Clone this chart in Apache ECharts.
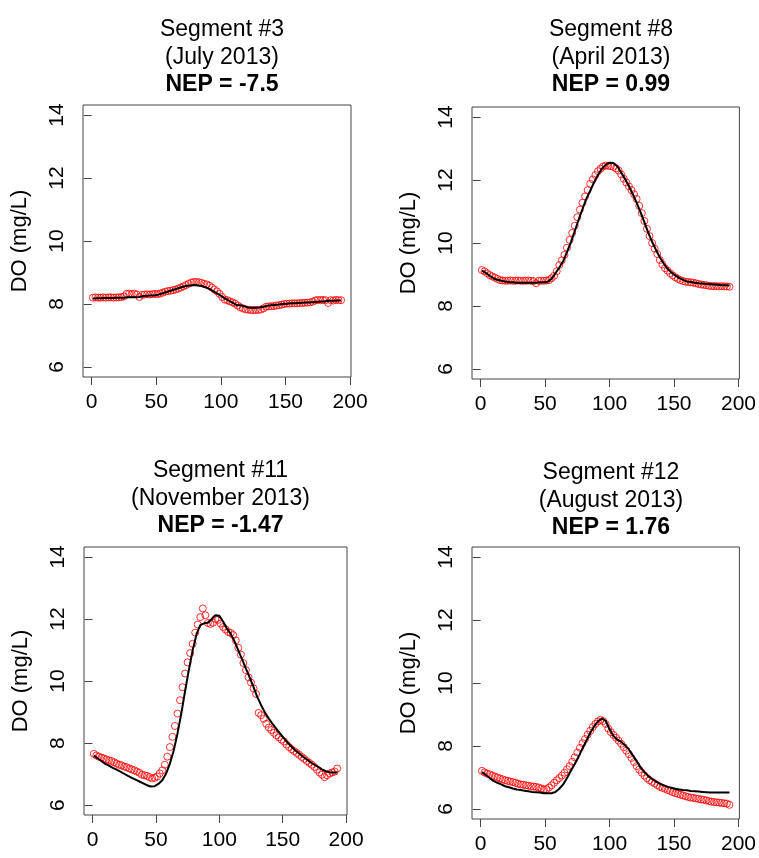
<!DOCTYPE html>
<html>
<head>
<meta charset="utf-8">
<script src="https://cdn.jsdelivr.net/npm/echarts@6/dist/echarts.min.js"></script>
<style>
  html, body { margin: 0; padding: 0; background: #fff; }
  #chart { width: 759px; height: 858px; }
</style>
</head>
<body>
<div id="chart"></div>
<script>
// Time steps of the observed series (every second step)
const hoursObs = [
  1, 3, 5, 7, 9, 11, 13, 15, 17, 19,
  21, 23, 25, 27, 29, 31, 33, 35, 37, 39,
  41, 43, 45, 47, 49, 51, 53, 55, 57, 59,
  61, 63, 65, 67, 69, 71, 73, 75, 77, 79,
  81, 83, 85, 87, 89, 91, 93, 95, 97, 99,
  101, 103, 105, 107, 109, 111, 113, 115, 117, 119,
  121, 123, 125, 127, 129, 131, 133, 135, 137, 139,
  141, 143, 145, 147, 149, 151, 153, 155, 157, 159,
  161, 163, 165, 167, 169, 171, 173, 175, 177, 179,
  181, 183, 185, 187, 189, 191, 193
];
// Time steps of the modelled series
const hoursModel = [
  1, 4, 7, 10, 13, 16, 19, 22, 25, 28,
  31, 34, 37, 40, 43, 46, 49, 52, 55, 58,
  61, 64, 67, 70, 73, 76, 79, 82, 85, 88,
  91, 94, 97, 100, 103, 106, 109, 112, 115, 118,
  121, 124, 127, 130, 133, 136, 139, 142, 145, 148,
  151, 154, 157, 160, 163, 166, 169, 172, 175, 178,
  181, 184, 187, 190, 193
];

const segmentNames = ['Segment #3', 'Segment #8', 'Segment #11', 'Segment #12'];
const surveyMonths = ['(July 2013)', '(April 2013)', '(November 2013)', '(August 2013)'];
const nepValues = ['-7.5', '0.99', '-1.47', '1.76'];

const xTicks = [0, 50, 100, 150, 200];
const yTicks = [6, 8, 10, 12, 14];

// Segment #3: observed and modelled dissolved oxygen (mg/L)
const obsSeg3 = [
  8.20, 8.21, 8.20, 8.20, 8.21, 8.20, 8.21, 8.21, 8.20, 8.21,
  8.21, 8.22, 8.24, 8.32, 8.33, 8.31, 8.33, 8.30, 8.22, 8.29,
  8.30, 8.31, 8.30, 8.31, 8.32, 8.31, 8.33, 8.36, 8.39, 8.41,
  8.42, 8.44, 8.46, 8.49, 8.52, 8.56, 8.60, 8.64, 8.68, 8.70,
  8.70, 8.69, 8.67, 8.64, 8.62, 8.58, 8.52, 8.46, 8.40, 8.32,
  8.22, 8.14, 8.12, 8.08, 8.05, 8.01, 7.95, 7.90, 7.86, 7.83,
  7.82, 7.81, 7.80, 7.81, 7.81, 7.82, 7.86, 7.91, 7.92, 7.93,
  7.93, 7.95, 7.96, 7.98, 8.00, 8.01, 8.01, 8.02, 8.02, 8.02,
  8.03, 8.03, 8.04, 8.04, 8.05, 8.07, 8.11, 8.13, 8.12, 8.13,
  8.12, 8.03, 8.12, 8.11, 8.13, 8.12, 8.12
];
const modSeg3 = [
  8.17, 8.18, 8.18, 8.19, 8.19, 8.19, 8.20, 8.20, 8.20, 8.21,
  8.21, 8.21, 8.22, 8.25, 8.26, 8.27, 8.28, 8.30, 8.34, 8.38,
  8.42, 8.46, 8.50, 8.54, 8.57, 8.59, 8.60, 8.59, 8.57, 8.53,
  8.48, 8.41, 8.34, 8.26, 8.18, 8.11, 8.04, 7.97, 7.96, 7.93,
  7.89, 7.88, 7.88, 7.89, 7.91, 7.94, 7.96, 7.97, 7.98, 8.00,
  8.01, 8.02, 8.02, 8.03, 8.04, 8.05, 8.05, 8.06, 8.07, 8.08,
  8.09, 8.10, 8.10, 8.11, 8.11
];

// Segment #8
const obsSeg8 = [
  9.14, 9.10, 9.04, 8.98, 8.94, 8.90, 8.86, 8.82, 8.81, 8.80,
  8.80, 8.81, 8.80, 8.80, 8.81, 8.80, 8.80, 8.80, 8.81, 8.80,
  8.79, 8.72, 8.80, 8.80, 8.80, 8.81, 8.82, 8.88, 8.96, 9.10,
  9.30, 9.45, 9.62, 9.85, 10.10, 10.32, 10.55, 10.82, 11.06, 11.28,
  11.48, 11.68, 11.88, 12.02, 12.16, 12.28, 12.36, 12.43, 12.46, 12.45,
  12.44, 12.42, 12.37, 12.30, 12.18, 12.04, 11.92, 11.80, 11.68, 11.55,
  11.40, 11.18, 10.95, 10.70, 10.45, 10.22, 10.00, 9.82, 9.65, 9.46,
  9.32, 9.20, 9.12, 9.04, 8.97, 8.91, 8.86, 8.82, 8.79, 8.77,
  8.76, 8.75, 8.74, 8.72, 8.70, 8.68, 8.67, 8.66, 8.64, 8.63,
  8.63, 8.63, 8.62, 8.63, 8.62, 8.62, 8.61
];
const modSeg8 = [
  9.12, 9.05, 8.96, 8.88, 8.83, 8.80, 8.78, 8.76, 8.75, 8.74,
  8.74, 8.74, 8.74, 8.74, 8.74, 8.75, 8.75, 8.77, 8.86, 9.04,
  9.22, 9.42, 9.72, 10.02, 10.38, 10.74, 11.08, 11.40, 11.66, 11.93,
  12.16, 12.36, 12.48, 12.55, 12.54, 12.44, 12.24, 12.03, 11.81, 11.55,
  11.28, 10.98, 10.66, 10.33, 10.04, 9.78, 9.55, 9.35, 9.18, 9.06,
  8.97, 8.89, 8.83, 8.78, 8.76, 8.74, 8.72, 8.71, 8.70, 8.69,
  8.68, 8.67, 8.66, 8.66, 8.65
];

// Segment #11
const obsSeg11 = [
  7.65, 7.60, 7.56, 7.53, 7.50, 7.47, 7.44, 7.42, 7.38, 7.34,
  7.30, 7.28, 7.24, 7.22, 7.18, 7.15, 7.12, 7.08, 7.04, 6.98,
  6.96, 6.94, 6.90, 6.86, 6.88, 6.92, 7.02, 7.12, 7.30, 7.56,
  7.87, 8.20, 8.55, 8.95, 9.38, 9.80, 10.24, 10.60, 10.90, 11.20,
  11.56, 11.82, 12.06, 12.34, 12.12, 11.87, 11.84, 11.88, 12.00, 11.97,
  11.85, 11.74, 11.66, 11.58, 11.55, 11.48, 11.31, 11.07, 10.85, 10.58,
  10.35, 10.12, 9.95, 9.76, 9.58, 8.97, 8.90, 8.78, 8.62, 8.50,
  8.42, 8.33, 8.25, 8.18, 8.11, 8.05, 7.95, 7.87, 7.80, 7.74,
  7.68, 7.62, 7.55, 7.49, 7.42, 7.36, 7.30, 7.23, 7.14, 7.05,
  6.98, 6.90, 6.96, 7.02, 7.05, 7.08, 7.18
];
const modSeg11 = [
  7.60, 7.51, 7.42, 7.33, 7.27, 7.20, 7.14, 7.08, 7.01, 6.94,
  6.88, 6.82, 6.76, 6.70, 6.64, 6.60, 6.61, 6.68, 6.80, 7.01,
  7.33, 7.75, 8.30, 8.95, 9.67, 10.36, 10.99, 11.50, 11.80, 11.86,
  11.88, 12.00, 12.12, 12.10, 11.92, 11.69, 11.52, 11.28, 10.99, 10.70,
  10.40, 10.11, 9.80, 9.48, 9.22, 8.98, 8.79, 8.62, 8.46, 8.30,
  8.15, 8.01, 7.88, 7.76, 7.66, 7.56, 7.47, 7.38, 7.30, 7.23,
  7.15, 7.09, 7.06, 7.05, 7.05
];

// Segment #12
const obsSeg12 = [
  7.21, 7.16, 7.12, 7.10, 7.06, 7.03, 7.00, 6.97, 6.94, 6.91,
  6.89, 6.87, 6.85, 6.83, 6.80, 6.78, 6.77, 6.75, 6.74, 6.72,
  6.71, 6.70, 6.68, 6.65, 6.62, 6.63, 6.68, 6.75, 6.83, 6.91,
  6.98, 7.06, 7.15, 7.26, 7.36, 7.50, 7.64, 7.79, 7.94, 8.09,
  8.22, 8.36, 8.48, 8.60, 8.70, 8.78, 8.83, 8.79, 8.70, 8.55,
  8.44, 8.35, 8.26, 8.17, 8.07, 7.96, 7.85, 7.74, 7.62, 7.49,
  7.36, 7.25, 7.15, 7.06, 6.98, 6.91, 6.86, 6.81, 6.76, 6.70,
  6.67, 6.64, 6.60, 6.57, 6.53, 6.50, 6.48, 6.45, 6.43, 6.40,
  6.38, 6.36, 6.35, 6.33, 6.32, 6.30, 6.29, 6.27, 6.25, 6.23,
  6.22, 6.21, 6.20, 6.19, 6.18, 6.17, 6.13
];
const modSeg12 = [
  7.17, 7.08, 6.98, 6.89, 6.83, 6.78, 6.72, 6.69, 6.65, 6.62,
  6.60, 6.58, 6.56, 6.54, 6.53, 6.52, 6.50, 6.50, 6.50, 6.54,
  6.64, 6.78, 6.98, 7.21, 7.43, 7.66, 7.92, 8.17, 8.42, 8.62,
  8.78, 8.87, 8.80, 8.53, 8.32, 8.20, 8.13, 8.02, 7.89, 7.70,
  7.52, 7.32, 7.17, 7.05, 6.95, 6.87, 6.80, 6.75, 6.70, 6.67,
  6.64, 6.62, 6.60, 6.59, 6.57, 6.56, 6.55, 6.54, 6.53, 6.52,
  6.52, 6.52, 6.52, 6.52, 6.52
];

const observed = [obsSeg3, obsSeg8, obsSeg11, obsSeg12];
const modelled = [modSeg3, modSeg8, modSeg11, modSeg12];

// Plot-box geometry of the 2x2 panel layout
const boxes = [
  { left: 83, top: 105, width: 268, height: 272 },
  { left: 472, top: 107, width: 268, height: 272 },
  { left: 84, top: 547, width: 263, height: 268 },
  { left: 472, top: 547, width: 268, height: 272 }
];
const titleTops = [11, 11, 452, 454];

const FONT = 'Liberation Sans, Arial, Helvetica, sans-serif';
const AXIS_COLOR = '#444';

const option = {
  backgroundColor: '#fff',
  animation: false,
  title: [],
  grid: [],
  xAxis: [],
  yAxis: [],
  series: []
};

boxes.forEach((b, i) => {
  option.grid.push({
    left: b.left, top: b.top, width: b.width, height: b.height,
    show: true, borderColor: AXIS_COLOR, borderWidth: 1,
    backgroundColor: 'transparent', containLabel: false
  });
  option.title.push({
    text: '{n|' + segmentNames[i] + '}\n{n|' + surveyMonths[i] + '}\n{b|NEP = ' + nepValues[i] + '}',
    left: b.left + b.width / 2,
    top: titleTops[i],
    textAlign: 'center',
    textStyle: {
      fontWeight: 'normal',
      rich: {
        n: { fontFamily: FONT, fontSize: 23, fontWeight: 'normal', color: '#000', lineHeight: 27.5 },
        b: { fontFamily: FONT, fontSize: 23, fontWeight: 'bold', color: '#000', lineHeight: 27.5 }
      }
    }
  });
  option.xAxis.push({
    type: 'value', gridIndex: i, min: -6.7, max: 200.7,
    axisLine: { show: false },
    axisTick: { show: true, length: 8, customValues: xTicks, lineStyle: { color: AXIS_COLOR, width: 1 } },
    axisLabel: { customValues: xTicks, fontFamily: FONT, fontSize: 21, color: '#000', margin: 15 },
    splitLine: { show: false }
  });
  option.yAxis.push({
    type: 'value', gridIndex: i, min: 5.68, max: 14.32,
    name: 'DO (mg/L)', nameLocation: 'middle', nameRotate: 90, nameGap: 52,
    nameTextStyle: { fontFamily: FONT, fontSize: 22, color: '#000' },
    axisLine: { show: false },
    axisTick: { show: true, length: 8, customValues: yTicks, lineStyle: { color: AXIS_COLOR, width: 1 } },
    axisLabel: { customValues: yTicks, rotate: 90, fontFamily: FONT, fontSize: 21, color: '#000', margin: 15 },
    splitLine: { show: false }
  });
  // Observed values: open red circles
  option.series.push({
    type: 'scatter', xAxisIndex: i, yAxisIndex: i,
    data: hoursObs.map((h, k) => [h, observed[i][k]]),
    symbol: 'circle', symbolSize: 7,
    itemStyle: { color: 'rgba(0,0,0,0)', borderColor: '#ff0000', borderWidth: 1 },
    z: 2
  });
  // Modelled values: black line drawn over the circles
  option.series.push({
    type: 'line', xAxisIndex: i, yAxisIndex: i,
    data: hoursModel.map((h, k) => [h, modelled[i][k]]),
    showSymbol: false, smooth: false,
    lineStyle: { color: '#000', width: 2 },
    z: 3
  });
});

const chart = echarts.init(document.getElementById('chart'), null, { renderer: 'canvas' });
chart.setOption(option);
</script>
</body>
</html>
